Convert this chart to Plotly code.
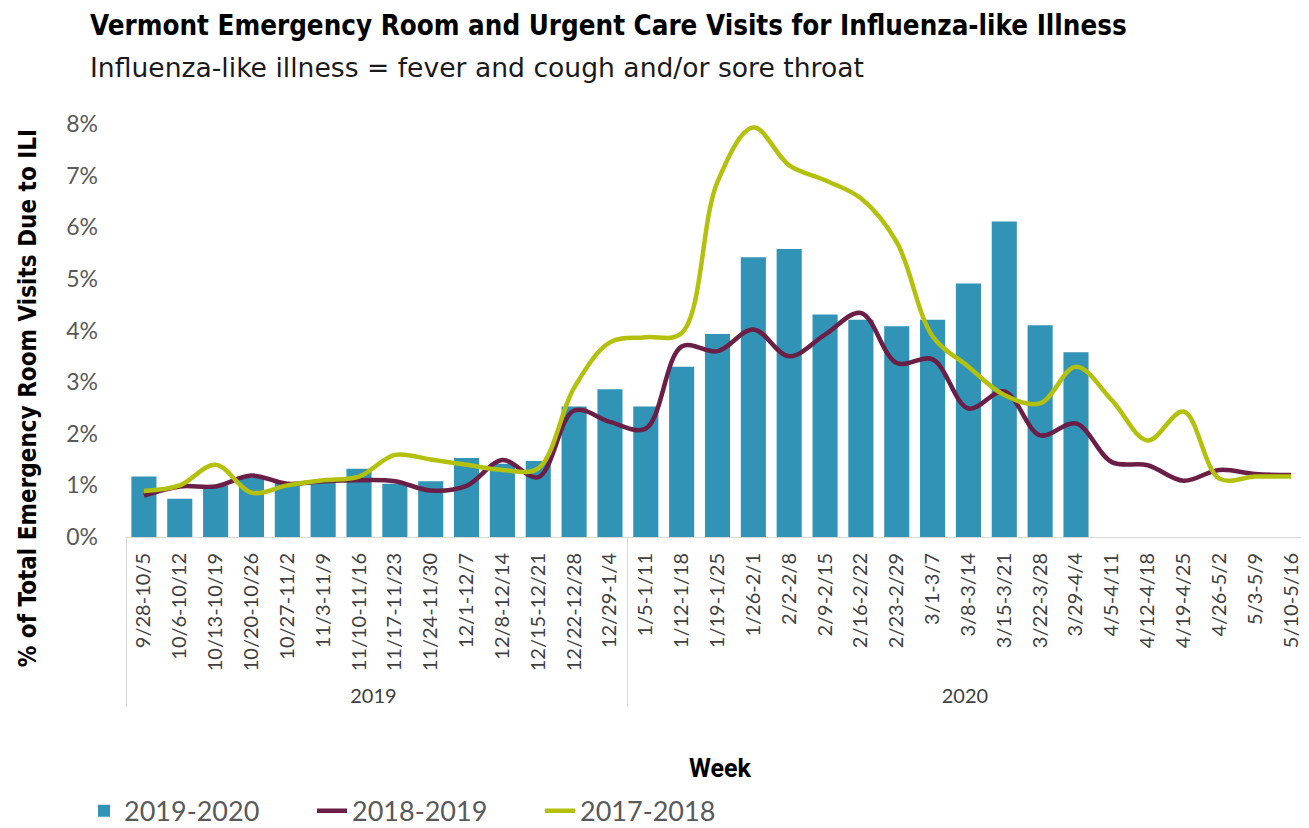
import plotly.graph_objects as go

weeks = ["9/28-10/5", "10/6-10/12", "10/13-10/19", "10/20-10/26", "10/27-11/2", "11/3-11/9",
         "11/10-11/16", "11/17-11/23", "11/24-11/30", "12/1-12/7", "12/8-12/14", "12/15-12/21",
         "12/22-12/28", "12/29-1/4",
         "1/5-1/11", "1/12-1/18", "1/19-1/25", "1/26-2/1", "2/2-2/8", "2/9-2/15", "2/16-2/22",
         "2/23-2/29", "3/1-3/7", "3/8-3/14", "3/15-3/21", "3/22-3/28", "3/29-4/4", "4/5-4/11",
         "4/12-4/18", "4/19-4/25", "4/26-5/2", "5/3-5/9", "5/10-5/16"]
years = ["2019"] * 14 + ["2020"] * 19

s2019_2020 = [1.17, 0.74, 1.0, 1.15, 1.05, 1.1, 1.32, 1.03, 1.08, 1.53, 1.42, 1.47, 2.53, 2.86,
              2.53, 3.30, 3.93, 5.42, 5.58, 4.31, 4.21, 4.08, 4.21, 4.91, 6.11, 4.10, 3.58,
              None, None, None, None, None, None]
s2018_2019 = [0.80, 0.98, 0.98, 1.19, 1.03, 1.08, 1.10, 1.08, 0.90, 0.99, 1.49, 1.16, 2.45, 2.23,
              2.10, 3.69, 3.60, 4.02, 3.50, 3.92, 4.34, 3.37, 3.44, 2.49, 2.82, 1.97, 2.20,
              1.45, 1.39, 1.09, 1.30, 1.22, 1.20]
s2017_2018 = [0.89, 1.0, 1.40, 0.86, 1.0, 1.10, 1.17, 1.59, 1.50, 1.40, 1.30, 1.33, 2.89, 3.77,
              3.87, 3.95, 6.88, 7.93, 7.20, 6.91, 6.56, 5.71, 3.89, 3.30, 2.75, 2.59, 3.30,
              2.65, 1.87, 2.43, 1.13, 1.17, 1.17]
y_ticks = [0, 1, 2, 3, 4, 5, 6, 7, 8]
y_tick_labels = ["0%", "1%", "2%", "3%", "4%", "5%", "6%", "7%", "8%"]

x = [years, weeks]

fig = go.Figure()
fig.add_trace(go.Bar(x=x, y=s2019_2020, name="2019-2020", marker_color="#3193b5",
                     marker_line_width=0))
fig.add_trace(go.Scatter(x=x, y=s2018_2019, name="2018-2019", mode="lines",
                         line=dict(color="#6b1f47", width=4.5, shape="spline", smoothing=1.0)))
fig.add_trace(go.Scatter(x=x, y=s2017_2018, name="2017-2018", mode="lines",
                         line=dict(color="#b4c10c", width=4.5, shape="spline", smoothing=1.0)))

# page has an 8px body margin, so the figure is 8px smaller and margins shifted by 8
fig.update_layout(
    width=1301, height=820,
    margin=dict(l=118, r=0, t=116, b=291, autoexpand=False),
    paper_bgcolor="white", plot_bgcolor="white",
    bargap=0.3,
    showlegend=True,
    legend=dict(orientation="h", x=-0.0355, xanchor="left", y=-0.664, yanchor="middle",
                font=dict(family="Lato, Calibri, sans-serif", size=27, color="#595959"),
                entrywidth=183, entrywidthmode="pixels", tracegroupgap=0),
    font=dict(family="Lato, sans-serif"),
)
fig.update_xaxes(
    type="multicategory",
    tickangle=-90,
    tickfont=dict(family="Lato, Calibri, sans-serif", size=20, color="#404040"),
    showline=True, linecolor="#d9d9d9", linewidth=1,
    showdividers=True, dividercolor="#d9d9d9", dividerwidth=1,
    showgrid=False, ticks="",
    ticklabelstandoff=7,
    range=[-0.5, 32.5],
)
fig.update_yaxes(
    range=[0, 8], tickvals=y_ticks, ticktext=y_tick_labels,
    tickfont=dict(family="Lato, Calibri, sans-serif", size=23, color="#595959"),
    showgrid=False, zeroline=False, showline=False, ticks="",
    ticklabelstandoff=27,
)

fig.add_annotation(text="<b>Vermont Emergency Room and Urgent Care Visits for Influenza-like Illness</b>",
                   xref="paper", yref="paper", x=-0.032, y=1.0, xanchor="left", yanchor="middle",
                   yshift=99, showarrow=False,
                   font=dict(family="DejaVu Sans Condensed, Roboto, sans-serif", size=27.5, color="#000000"))
fig.add_annotation(text="Influenza-like illness = fever and cough and/or sore throat",
                   xref="paper", yref="paper", x=-0.032, y=1.0, xanchor="left", yanchor="middle",
                   yshift=57, showarrow=False,
                   font=dict(family="DejaVu Sans, sans-serif", size=26.6, color="#1a1a1a"))
fig.add_annotation(text="<b>% of Total Emergency Room Visits Due to ILI</b>",
                   xref="paper", yref="paper", x=-0.0833, y=0.337, xanchor="center", yanchor="middle",
                   textangle=-90, showarrow=False,
                   font=dict(family="DejaVu Sans Condensed, Roboto, sans-serif", size=24, color="#000000"))
fig.add_annotation(text="<b>Week</b>",
                   xref="paper", yref="paper", x=0.502, y=0, xanchor="center", yanchor="middle",
                   yshift=-231, showarrow=False,
                   font=dict(family="Roboto, sans-serif", size=25, color="#000000"))

fig.write_html("out.html")
